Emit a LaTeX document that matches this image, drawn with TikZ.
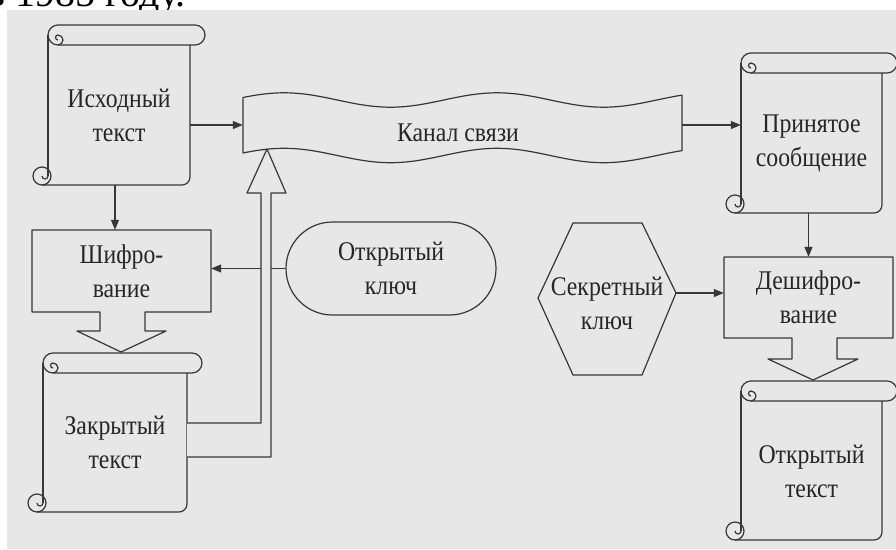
\documentclass[tikz,border=0pt]{standalone}
\usepackage{fontspec}
\setmainfont{Liberation Serif}
\newfontfamily\df[FakeStretch=0.88]{Liberation Serif}
\usetikzlibrary{arrows.meta,shapes.misc,calc}
\definecolor{bggray}{RGB}{231,231,231}
\definecolor{ln}{RGB}{55,55,55}
\newcommand\scrollshape[4]{%
  \draw[shp] ({#1+10},#2) arc (270:90:10) -- ({#3+5},{#2+20}) arc (90:-90:10) -- cycle;
  \draw[shp] ({#1+10},{#2+20}) arc (90:-90:5) arc (270:90:2.5);
  \draw[shp] (#1,{#2+10}) -- (#1,{#4-9});
  \draw[shp] ({#1-6},{#4-9}) circle (9);
  \draw[shp] (#1,{#4-9}) arc (0:180:3);
  \draw[shp] ({#1-6},#4) -- ({#3-8},#4) arc (90:0:8) -- (#3,{#2+20});
}
\begin{document}
\begin{tikzpicture}[x=1pt,y=-1pt,
  shp/.style={draw=ln,line width=1.2pt,line join=round},
  arr/.style={draw=ln,line width=1.2pt,-{Triangle[length=10pt,width=8pt]}},
  txt/.style={font={\df\fontsize{27}{34}\selectfont},align=center,text=black!85,inner sep=0pt},
  body/.style={txt,minimum width=#1,minimum height=80},
]
\useasboundingbox (0,0) rectangle (896,549);
\fill[white] (0,0) rectangle (896,549);
\node[anchor=base west,font={\fontsize{40}{44}\selectfont},inner sep=0pt] (top) at (-14,6) {в 1985 году.};
\fill[bggray] (7,10) rectangle (896,549);

% scrolls
\scrollshape{48}{25}{190}{185}
\scrollshape{43}{353}{187}{512}
\scrollshape{741}{53}{882}{213}
\scrollshape{741}{381}{882}{540}
\node[txt,minimum width=142,minimum height=140] (A) at (119,115) {Исходный\\текст};
\node[txt,minimum width=144,minimum height=139] (C) at (115,442.5) {Закрытый\\текст};
\node[txt,minimum width=141,minimum height=140] (D) at (811.5,143) {Принятое\\сообщение};
\node[txt,minimum width=141,minimum height=138] (E) at (811.5,471) {Открытый\\текст};

% channel (tape)
\draw[shp] plot[domain=243:682,samples=120,variable=\t] (\t,{100-7.2*sin(1.69*\t-390)})
  -- plot[domain=682:243,samples=120,variable=\t] (\t,{155.5-7.2*sin(1.69*\t-390)}) -- cycle;
\node[minimum width=439,minimum height=50,inner sep=0pt] (kanal) at (462.5,125) {};
\node[txt] (kanaltxt) at (458,133) {Канал связи};

% encryption block with arrow
\draw[shp] (100,312) -- (32,312) -- (32,230) -- (211,230) -- (211,312) -- (145,312) -- (145,331)
  -- (166,331) -- (121,352) -- (77,331) -- (100,331) -- cycle;
\node[txt,minimum width=179,minimum height=82] (shifr) at (121.5,271) {Шифро-\\вание};

% decryption block with arrow
\draw[shp] (792,338) -- (724,338) -- (724,257) -- (893,257) -- (893,338) -- (837,338) -- (837,359)
  -- (858,359) -- (813,380) -- (768,359) -- (792,359) -- cycle;
\node[txt,minimum width=169,minimum height=81] (deshifr) at (808.5,297.5) {Дешифро-\\вание};

% public key
\node[txt,draw=ln,line width=1.2pt,rounded rectangle,minimum width=210,minimum height=93] (okey) at (391,268.5) {Открытый\\ключ};

% secret key hexagon
\draw[shp] (573,223) -- (642,223) -- (676,293) -- (642,375) -- (573,375) -- (538,298) -- cycle;
\coordinate (hexR) at (676,293);
\node[txt] (skey) at (607,303) {Секретный\\ключ};

% connectors
\draw[arr] (A.east |- kanal.west) -- (kanal.west);
\draw[arr] (kanal.east) -- (kanal.east -| D.west);
\draw[arr] ([xshift=-4pt]A.south) -- ([xshift=-4pt]A.south |- shifr.north);
\draw[arr] (okey.west) -- (okey.west -| shifr.east);
\draw[arr] (D.south -| deshifr.north) -- (deshifr.north);
\draw[arr] (hexR) -- (hexR -| deshifr.west);

% hollow arrow from closed text to channel
\fill[bggray] (C.east |- 0,423) -- (261,423) -- (261,193) -- (247,193) -- (267,149) -- (286,193)
  -- (271,193) -- (271,457) -- (C.east |- 0,457) -- cycle;
\draw[shp] (C.east |- 0,423) -- (261,423) -- (261,193) -- (247,193) -- (267,149) -- (286,193)
  -- (271,193) -- (271,457) -- (C.east |- 0,457);
\end{tikzpicture}
\end{document}
